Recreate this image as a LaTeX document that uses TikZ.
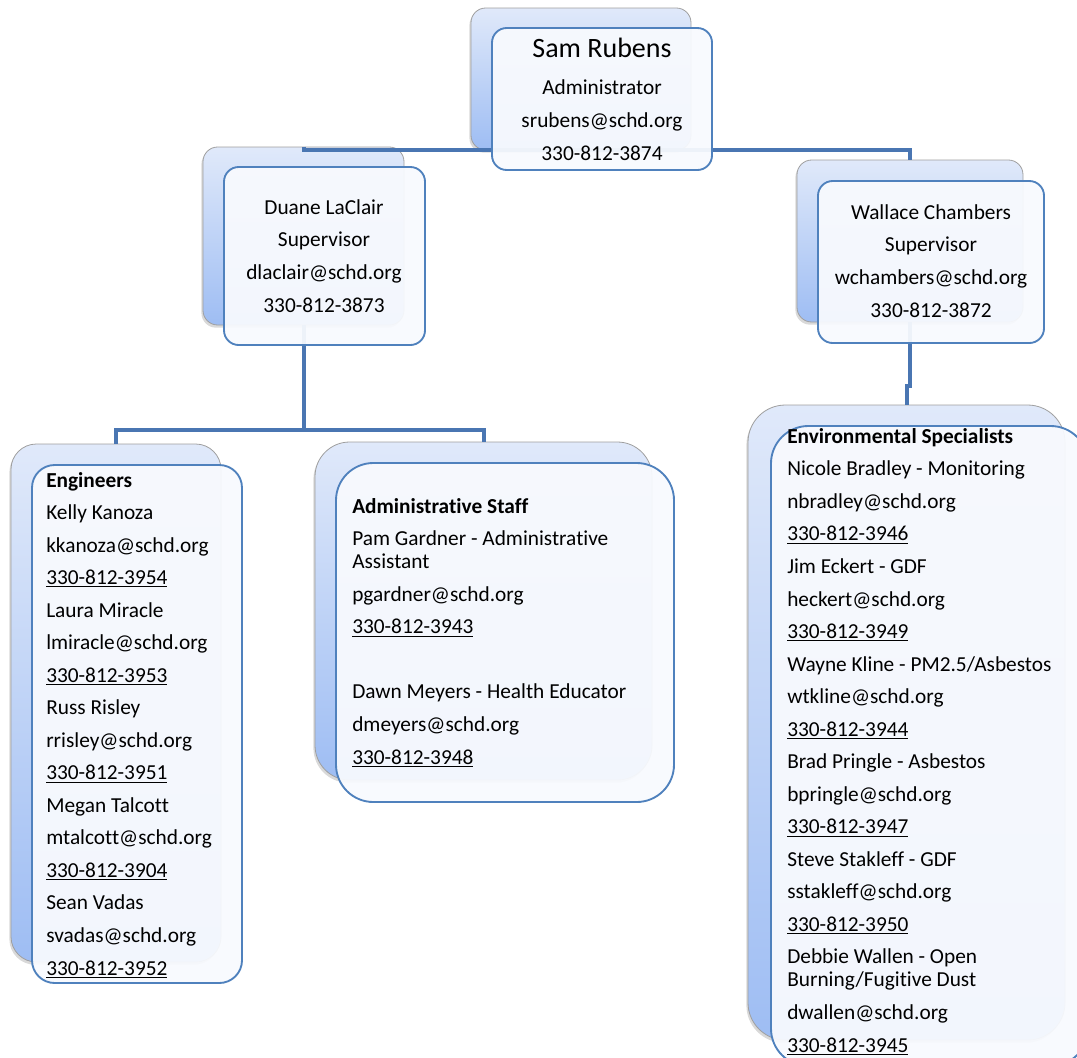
\documentclass[tikz,border=0pt]{standalone}
\usepackage{fontspec}
\setmainfont[Ligatures=NoCommon]{Carlito}
\usetikzlibrary{fit,shadows}

\definecolor{linkblue}{RGB}{74,118,178}
\definecolor{frameblue}{RGB}{79,129,189}
\definecolor{backtop}{RGB}{224,233,250}
\definecolor{backbottom}{RGB}{158,189,243}
\definecolor{frontfill}{RGB}{248,250,254}

\tikzset{
  backbox/.style={draw=gray!75, line width=0.6pt, top color=backtop, bottom color=backbottom,
    rounded corners=#1, inner sep=0pt,
    drop shadow={shadow xshift=-1.2pt, shadow yshift=-2pt, opacity=0.3}},
  backbox/.default=11pt,
  frontbox/.style={draw=frameblue, line width=1.4pt, fill=frontfill, fill opacity=0.94,
    rounded corners=#1, inner sep=0pt},
  frontbox/.default=11pt,
  link/.style={draw=linkblue, line width=3pt},
  centertext/.style={align=center, anchor=base, inner sep=0pt,
    font=\fontsize{16pt}{24.4pt}\selectfont},
  listtext/.style={align=left, anchor=base west, inner sep=0pt,
    font=\fontsize{16pt}{24.4pt}\selectfont},
}

\begin{document}
\begin{tikzpicture}[x=0.75pt,y=-0.75pt]
\useasboundingbox (0,0) rectangle (1077,1057);

% back boxes
\node[backbox, fit={(471,8) (691,150)}] (samBack) {};
\node[backbox, fit={(203,147) (404,325)}] (duaneBack) {};
\node[backbox, fit={(797,160) (1023,322)}] (wallBack) {};
\node[backbox=19pt, fit={(11,444) (221,962)}] (engBack) {};
\node[backbox=26pt, fit={(315,442) (652,780)}] (adminBack) {};
\node[backbox=28pt, fit={(748,405) (1065,1040)}] (envBack) {};

% connectors
\draw[link] (duaneBack.north) |- (samBack.south) -| (wallBack.north);
\draw[link] (duaneBack.south) -- ++(0,105) coordinate (duaneJoin);
\draw[link] (engBack.north) |- (duaneJoin) -| (adminBack.north);
\draw[link] (wallBack.south) -- ++(0,64) -| (envBack.north);

% front boxes
\node[frontbox, fit={(492,28) (712,170)}] (samFront) {};
\node[frontbox, fit={(224,167) (425,345)}] (duaneFront) {};
\node[frontbox, fit={(818,181) (1044,343)}] (wallFront) {};
\node[frontbox=17pt, fit={(32,465) (242,983)}] (engFront) {};
\node[frontbox=28pt, fit={(336,463) (674,802)}] (adminFront) {};
\node[frontbox=28pt, fit={(771,426) (1088,1066)}] (envFront) {};

% texts (base = last line)
\node[centertext, font=\fontsize{21pt}{26pt}\selectfont] (samName) at (602,57) {Sam Rubens};
\node[centertext] (samInfo) at (602,160) {Administrator\\srubens@schd.org\\330-812-3874};
\node[centertext] (duaneInfo) at (324,312) {Duane LaClair\\Supervisor\\dlaclair@schd.org\\330-812-3873};
\node[centertext] (wallInfo) at (931,317) {Wallace Chambers\\Supervisor\\wchambers@schd.org\\330-812-3872};

\node[listtext] (engList) at (46,975) {\textbf{Engineers}\\Kelly Kanoza\\kkanoza@schd.org\\\underline{330-812-3954}\\
  Laura Miracle\\lmiracle@schd.org\\\underline{330-812-3953}\\
  Russ Risley\\rrisley@schd.org\\\underline{330-812-3951}\\
  Megan Talcott\\mtalcott@schd.org\\\underline{330-812-3904}\\
  Sean Vadas\\svadas@schd.org\\\underline{330-812-3952}};

\node[listtext] (adminList) at (352,764) {\textbf{Administrative Staff}\\
  Pam Gardner - Administrative\\[-7.1pt]Assistant\\pgardner@schd.org\\\underline{330-812-3943}\\[24.4pt]
  Dawn Meyers - Health Educator\\dmeyers@schd.org\\\underline{330-812-3948}};

\node[listtext] (envList) at (787,1052) {\textbf{Environmental Specialists}\\
  Nicole Bradley - Monitoring\\nbradley@schd.org\\\underline{330-812-3946}\\
  Jim Eckert - GDF\\heckert@schd.org\\\underline{330-812-3949}\\
  Wayne Kline - PM2.5/Asbestos\\wtkline@schd.org\\\underline{330-812-3944}\\
  Brad Pringle - Asbestos\\bpringle@schd.org\\\underline{330-812-3947}\\
  Steve Stakleff - GDF\\sstakleff@schd.org\\\underline{330-812-3950}\\
  Debbie Wallen - Open\\[-7.1pt]Burning/Fugitive Dust\\dwallen@schd.org\\\underline{330-812-3945}};
\end{tikzpicture}
\end{document}
